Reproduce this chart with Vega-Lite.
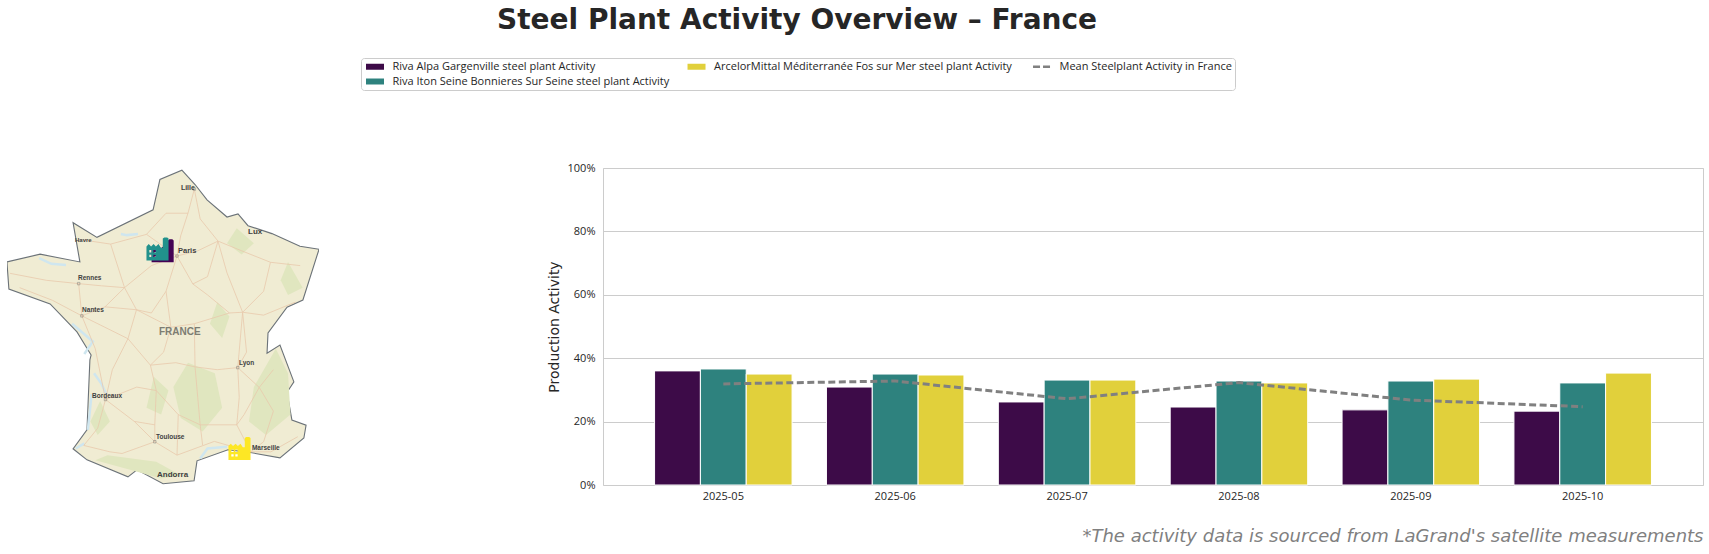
{
"$schema":"https://vega.github.io/schema/vega-lite/v6.json",
"padding":{"left":7,"top":7,"right":6,"bottom":0},
"background":"white",
"title":{"text":"Steel Plant Activity Overview – France","font":"DejaVu Sans","fontSize":28,"fontWeight":"bold","color":"#262626","anchor":"start","dx":490,"offset":22},
"bounds":"flush",
"spacing":284,
"resolve":{"scale":{"color":"independent"},"legend":{"color":"independent"}},
"config":{"view":{"stroke":null},"font":"Open Sans"},
"datasets":{
"plants":[
{"month":"2025-05","series":"Riva Alpa Gargenville steel plant Activity","activity":0.36},
{"month":"2025-05","series":"Riva Iton Seine Bonnieres Sur Seine steel plant Activity","activity":0.366},
{"month":"2025-05","series":"ArcelorMittal Méditerranée Fos sur Mer steel plant Activity","activity":0.35},
{"month":"2025-06","series":"Riva Alpa Gargenville steel plant Activity","activity":0.309},
{"month":"2025-06","series":"Riva Iton Seine Bonnieres Sur Seine steel plant Activity","activity":0.35},
{"month":"2025-06","series":"ArcelorMittal Méditerranée Fos sur Mer steel plant Activity","activity":0.347},
{"month":"2025-07","series":"Riva Alpa Gargenville steel plant Activity","activity":0.262},
{"month":"2025-07","series":"Riva Iton Seine Bonnieres Sur Seine steel plant Activity","activity":0.331},
{"month":"2025-07","series":"ArcelorMittal Méditerranée Fos sur Mer steel plant Activity","activity":0.331},
{"month":"2025-08","series":"Riva Alpa Gargenville steel plant Activity","activity":0.246},
{"month":"2025-08","series":"Riva Iton Seine Bonnieres Sur Seine steel plant Activity","activity":0.328},
{"month":"2025-08","series":"ArcelorMittal Méditerranée Fos sur Mer steel plant Activity","activity":0.322},
{"month":"2025-09","series":"Riva Alpa Gargenville steel plant Activity","activity":0.237},
{"month":"2025-09","series":"Riva Iton Seine Bonnieres Sur Seine steel plant Activity","activity":0.328},
{"month":"2025-09","series":"ArcelorMittal Méditerranée Fos sur Mer steel plant Activity","activity":0.334},
{"month":"2025-10","series":"Riva Alpa Gargenville steel plant Activity","activity":0.233},
{"month":"2025-10","series":"Riva Iton Seine Bonnieres Sur Seine steel plant Activity","activity":0.322},
{"month":"2025-10","series":"ArcelorMittal Méditerranée Fos sur Mer steel plant Activity","activity":0.353}
],
"mean":[
{"month":"2025-05","series":"Mean Steelplant Activity in France","activity":0.319},
{"month":"2025-06","series":"Mean Steelplant Activity in France","activity":0.328},
{"month":"2025-07","series":"Mean Steelplant Activity in France","activity":0.272},
{"month":"2025-08","series":"Mean Steelplant Activity in France","activity":0.323},
{"month":"2025-09","series":"Mean Steelplant Activity in France","activity":0.268},
{"month":"2025-10","series":"Mean Steelplant Activity in France","activity":0.247}
],
"cities":[
{"name":"Lille","lon":2.51,"lat":50.66,"size":7},
{"name":"Lux","lon":5.26,"lat":49.5,"size":8},
{"name":"Havre","lon":-1.83,"lat":49.3,"size":6},
{"name":"Paris","lon":2.39,"lat":48.99,"size":7.5},
{"name":"Rennes","lon":-1.71,"lat":48.27,"size":6.5},
{"name":"Nantes","lon":-1.54,"lat":47.38,"size":6.5},
{"name":"Lyon","lon":4.89,"lat":45.9,"size":6.5},
{"name":"Bordeaux","lon":-1.13,"lat":44.94,"size":6.5},
{"name":"Toulouse","lon":1.49,"lat":43.74,"size":6.5},
{"name":"Marseille","lon":5.42,"lat":43.41,"size":6.5},
{"name":"Andorra","lon":1.53,"lat":42.6,"size":8}
],
"towns":[
{"lon":3.06,"lat":50.63},{"lon":2.35,"lat":48.86},{"lon":-1.68,"lat":48.11},{"lon":-1.55,"lat":47.22},{"lon":4.84,"lat":45.76},{"lon":-0.58,"lat":44.84},{"lon":1.44,"lat":43.6}
],
"icons":[
{"plant":"Riva Alpa Gargenville","lon":1.78,"lat":49.0},
{"plant":"Riva Iton Seine Bonnieres Sur Seine","lon":1.57,"lat":49.05},
{"plant":"ArcelorMittal Méditerranée Fos sur Mer","lon":4.93,"lat":43.4}
]
},
"hconcat":[
{"width":312,"height":317,
"projection":{"type":"mercator","center":[2.35,48.86],"scale":1398,"translate":[170,88]},
"layer":[
{"data":{"values":{"type":"FeatureCollection","features":[{"type":"Feature","properties":{},"geometry":{"type":"Polygon","coordinates":[[[2.55,51.12],[3.09,50.75],[3.58,50.35],[4.40,49.90],[4.85,49.98],[5.26,49.67],[6.24,49.46],[7.39,49.12],[8.17,49.04],[7.51,47.66],[6.86,47.46],[6.08,46.74],[6.04,46.17],[6.57,46.40],[7.14,45.35],[6.86,45.05],[7.06,44.24],[7.64,44.09],[7.55,43.71],[6.57,43.12],[5.42,43.27],[4.44,43.36],[3.17,43.03],[3.05,42.43],[1.78,42.34],[0.71,42.76],[0.34,42.55],[-1.34,43.06],[-1.91,43.39],[-1.34,43.95],[-1.22,45.98],[-1.17,46.12],[-1.75,46.77],[-2.85,47.55],[-4.54,47.96],[-4.62,48.70],[-3.26,48.91],[-1.63,48.70],[-1.91,49.75],[-0.93,49.36],[1.37,50.09],[1.65,50.88],[2.55,51.12]]]}}]},"format":{"type":"json","property":"features"}},
"mark":{"type":"geoshape","fill":"#f0ecd3","stroke":"#6b7278","strokeWidth":1.1}},
{"data":{"values":{"type":"FeatureCollection","features":[
{"type":"Feature","properties":{},"geometry":{"type":"Polygon","coordinates":[[[4.0,47.6],[4.5,47.2],[4.2,46.6],[3.7,47.0],[4.0,47.6]]]}},
{"type":"Feature","properties":{},"geometry":{"type":"Polygon","coordinates":[[[2.8,45.9],[3.9,45.6],[4.2,44.6],[3.4,43.9],[2.5,44.3],[2.2,45.2],[2.8,45.9]]]}},
{"type":"Feature","properties":{},"geometry":{"type":"Polygon","coordinates":[[[6.4,46.3],[6.9,45.6],[7.0,44.4],[6.0,43.8],[5.3,44.2],[5.5,45.2],[6.4,46.3]]]}},
{"type":"Feature","properties":{},"geometry":{"type":"Polygon","coordinates":[[[-0.8,44.8],[-0.4,44.2],[-0.9,43.8],[-1.2,44.2],[-0.8,44.8]]]}},
{"type":"Feature","properties":{},"geometry":{"type":"Polygon","coordinates":[[[-0.5,43.2],[1.5,43.0],[2.5,42.6],[1.7,42.5],[0.5,42.75],[-1.0,43.05],[-0.5,43.2]]]}},
{"type":"Feature","properties":{},"geometry":{"type":"Polygon","coordinates":[[[6.9,48.7],[7.5,48.0],[6.9,47.8],[6.6,48.2],[6.9,48.7]]]}},
{"type":"Feature","properties":{},"geometry":{"type":"Polygon","coordinates":[[[1.4,45.5],[2.0,45.1],[1.7,44.4],[1.1,44.6],[1.4,45.5]]]}},
{"type":"Feature","properties":{},"geometry":{"type":"Polygon","coordinates":[[[4.8,49.6],[5.5,49.2],[5.0,48.9],[4.4,49.2],[4.8,49.6]]]}}
]},"format":{"type":"json","property":"features"}},
"mark":{"type":"geoshape","fill":"#e0e6bf","stroke":null}},
{"data":{"values":{"type":"FeatureCollection","features":[
{"type":"Feature","properties":{},"geometry":{"type":"LineString","coordinates":[[0.05,49.45],[0.3,49.42],[0.75,49.45]]}},
{"type":"Feature","properties":{},"geometry":{"type":"LineString","coordinates":[[-1.05,45.6],[-0.75,45.3],[-0.55,45.0]]}},
{"type":"Feature","properties":{},"geometry":{"type":"LineString","coordinates":[[-1.3,43.95],[-1.15,45.0]]}},
{"type":"Feature","properties":{},"geometry":{"type":"LineString","coordinates":[[3.3,43.1],[3.6,43.4],[4.4,43.45]]}},
{"type":"Feature","properties":{},"geometry":{"type":"LineString","coordinates":[[-1.45,46.15],[-1.1,46.5],[-1.95,47.0]]}},
{"type":"Feature","properties":{},"geometry":{"type":"LineString","coordinates":[[-3.3,48.8],[-2.8,48.65],[-2.2,48.62]]}},
{"type":"Feature","properties":{},"geometry":{"type":"LineString","coordinates":[[-1.8,43.4],[-1.45,43.55]]}}
]},"format":{"type":"json","property":"features"}},
"mark":{"type":"geoshape","filled":false,"stroke":"#cfe6ef","strokeWidth":2.5}},
{"data":{"values":{"type":"FeatureCollection","features":[
{"type":"Feature","properties":{},"geometry":{"type":"LineString","coordinates":[[3.06,50.63],[2.8,50.0],[2.5,49.4],[2.35,48.86],[1.9,47.9],[1.3,47.3],[0.69,47.39],[0.34,46.58],[-0.3,45.7],[-0.58,44.84],[0.6,44.2],[1.44,43.6],[2.35,43.2],[3.88,43.61],[5.37,43.3],[6.2,43.3],[7.3,43.75]]}},
{"type":"Feature","properties":{},"geometry":{"type":"LineString","coordinates":[[2.35,48.86],[3.0,48.1],[3.6,47.8],[4.5,47.3],[5.04,47.32],[4.84,45.76],[4.9,44.9],[4.8,44.1],[5.37,43.3]]}},
{"type":"Feature","properties":{},"geometry":{"type":"LineString","coordinates":[[2.35,48.86],[3.2,49.0],[4.03,49.26],[5.0,49.0],[6.18,48.69],[7.4,48.6]]}},
{"type":"Feature","properties":{},"geometry":{"type":"LineString","coordinates":[[2.35,48.86],[1.3,48.6],[0.2,48.0],[-0.75,48.05],[-1.68,48.11],[-3.0,48.2],[-4.49,48.39]]}},
{"type":"Feature","properties":{},"geometry":{"type":"LineString","coordinates":[[-1.68,48.11],[-1.55,47.22],[-0.6,47.47],[0.2,48.0]]}},
{"type":"Feature","properties":{},"geometry":{"type":"LineString","coordinates":[[-1.55,47.22],[-2.75,47.65],[-4.1,48.0]]}},
{"type":"Feature","properties":{},"geometry":{"type":"LineString","coordinates":[[-1.55,47.22],[-1.0,46.3],[-0.58,44.84],[-0.9,44.0],[-1.47,43.49],[-0.4,43.3],[0.1,43.25],[1.44,43.6]]}},
{"type":"Feature","properties":{},"geometry":{"type":"LineString","coordinates":[[1.9,47.9],[2.1,46.9],[1.8,46.2],[1.26,45.83],[1.5,45.1],[1.44,44.1],[1.44,43.6]]}},
{"type":"Feature","properties":{},"geometry":{"type":"LineString","coordinates":[[1.26,45.83],[2.3,45.9],[3.09,45.78],[4.0,45.7],[4.84,45.76],[5.72,45.19],[6.3,45.7]]}},
{"type":"Feature","properties":{},"geometry":{"type":"LineString","coordinates":[[3.09,45.78],[3.2,44.9],[3.3,44.1],[3.4,43.5]]}},
{"type":"Feature","properties":{},"geometry":{"type":"LineString","coordinates":[[3.06,47.0],[3.09,45.78]]}},
{"type":"Feature","properties":{},"geometry":{"type":"LineString","coordinates":[[5.04,47.32],[5.9,47.24],[7.2,47.6]]}},
{"type":"Feature","properties":{},"geometry":{"type":"LineString","coordinates":[[6.18,48.69],[5.9,47.9],[5.04,47.32]]}},
{"type":"Feature","properties":{},"geometry":{"type":"LineString","coordinates":[[-0.37,49.18],[0.2,48.0]]}},
{"type":"Feature","properties":{},"geometry":{"type":"LineString","coordinates":[[-1.6,49.3],[-0.37,49.18],[1.1,49.44],[2.35,48.86]]}},
{"type":"Feature","properties":{},"geometry":{"type":"LineString","coordinates":[[1.1,49.44],[1.9,50.0],[2.8,50.0]]}},
{"type":"Feature","properties":{},"geometry":{"type":"LineString","coordinates":[[5.72,45.19],[5.1,44.4],[4.8,44.1]]}},
{"type":"Feature","properties":{},"geometry":{"type":"LineString","coordinates":[[4.84,45.76],[5.2,46.2],[5.04,47.32]]}},
{"type":"Feature","properties":{},"geometry":{"type":"LineString","coordinates":[[4.03,49.26],[3.6,48.3],[3.0,48.1]]}},
{"type":"Feature","properties":{},"geometry":{"type":"LineString","coordinates":[[4.03,49.26],[4.4,48.4],[5.04,47.32]]}},
{"type":"Feature","properties":{},"geometry":{"type":"LineString","coordinates":[[4.03,49.26],[3.3,49.85],[3.06,50.63]]}},
{"type":"Feature","properties":{},"geometry":{"type":"LineString","coordinates":[[0.69,47.39],[-0.6,47.47]]}},
{"type":"Feature","properties":{},"geometry":{"type":"LineString","coordinates":[[0.69,47.39],[2.1,46.9],[3.06,47.0],[4.5,47.3]]}},
{"type":"Feature","properties":{},"geometry":{"type":"LineString","coordinates":[[0.34,46.58],[1.26,45.83]]}},
{"type":"Feature","properties":{},"geometry":{"type":"LineString","coordinates":[[-0.58,44.84],[0.7,45.2],[1.5,45.1],[2.4,44.4],[3.3,44.1],[4.8,44.1]]}},
{"type":"Feature","properties":{},"geometry":{"type":"LineString","coordinates":[[2.35,43.2],[2.4,44.4]]}},
{"type":"Feature","properties":{},"geometry":{"type":"LineString","coordinates":[[1.44,44.1],[0.6,44.2]]}},
{"type":"Feature","properties":{},"geometry":{"type":"LineString","coordinates":[[0.2,48.0],[0.69,47.39]]}},
{"type":"Feature","properties":{},"geometry":{"type":"LineString","coordinates":[[5.72,45.19],[6.3,44.5],[5.9,43.6],[5.37,43.3]]}},
{"type":"Feature","properties":{},"geometry":{"type":"LineString","coordinates":[[-1.55,47.22],[-0.6,46.9],[0.34,46.58]]}}
]},"format":{"type":"json","property":"features"}},
"mark":{"type":"geoshape","filled":false,"stroke":"#e8c9ac","strokeWidth":0.8}},
{"data":{"name":"towns"},"mark":{"type":"point","shape":"square","size":6,"filled":false,"stroke":"#6a6a6a","strokeWidth":0.6},"encoding":{"longitude":{"field":"lon","type":"quantitative"},"latitude":{"field":"lat","type":"quantitative"}}},
{"data":{"name":"cities"},"mark":{"type":"text","align":"left","baseline":"middle","font":"Liberation Sans","fontWeight":"bold","color":"#3f3f3f"},"encoding":{"longitude":{"field":"lon","type":"quantitative"},"latitude":{"field":"lat","type":"quantitative"},"text":{"field":"name","type":"nominal"},"size":{"field":"size","type":"quantitative","scale":null}}},
{"data":{"values":[{"name":"FRANCE","lon":1.61,"lat":46.78}]},"mark":{"type":"text","align":"left","baseline":"middle","font":"Liberation Sans","fontWeight":"bold","fontSize":10,"color":"#7d7d72"},"encoding":{"longitude":{"field":"lon","type":"quantitative"},"latitude":{"field":"lat","type":"quantitative"},"text":{"field":"name","type":"nominal"}}},
{"data":{"name":"icons"},"mark":{"type":"point","filled":true,"opacity":1,"size":529,"strokeWidth":0,"shape":"M-1,1V-0.22L-0.8,-0.42L-0.6,-0.22L-0.38,-0.42L-0.18,-0.22L0.05,-0.42L0.25,-0.1L0.42,-0.1V-0.9L0.55,-1H0.8L0.92,-0.9V1ZM-0.75,0.1V0.3H-0.55V0.1ZM-0.4,0.1V0.3H-0.2V0.1ZM-0.75,0.5V0.7H-0.55V0.5ZM-0.4,0.5V0.7H-0.2V0.5Z"},
"encoding":{"longitude":{"field":"lon","type":"quantitative"},"latitude":{"field":"lat","type":"quantitative"},"color":{"field":"plant","type":"nominal","legend":null,"scale":{"domain":["Riva Alpa Gargenville","Riva Iton Seine Bonnieres Sur Seine","ArcelorMittal Méditerranée Fos sur Mer"],"range":["#440154","#21918c","#fde725"]}}}}
]},
{"width":1100,"height":317,
"view":{"stroke":"#cccccc","strokeWidth":1},
"layer":[
{"data":{"name":"plants"},"mark":{"type":"bar","stroke":"white","strokeWidth":1},
"encoding":{
"xOffset":{"field":"series","type":"nominal","scale":{"domain":["Riva Alpa Gargenville steel plant Activity","Riva Iton Seine Bonnieres Sur Seine steel plant Activity","ArcelorMittal Méditerranée Fos sur Mer steel plant Activity"]}}
}},
{"data":{"name":"mean"},"mark":{"type":"line","strokeWidth":3,"strokeDash":[7,3.5]}}
],
"encoding":{
"x":{"field":"month","type":"ordinal","scale":{"paddingInner":0.2,"paddingOuter":0.3},
"axis":{"labelAngle":0,"labelFontSize":11,"labelColor":"#262626","labelFont":"Open Sans","ticks":false,"domain":false,"labelPadding":5,"title":"*The activity data is sourced from LaGrand's satellite measurements","titleFont":"DejaVu Sans","titleFontStyle":"italic","titleFontWeight":"normal","titleFontSize":18,"titleColor":"#808080","titleAnchor":"end","titlePadding":26}},
"y":{"field":"activity","type":"quantitative","scale":{"domain":[0,1],"nice":false},
"axis":{"format":".0%","values":[0,0.2,0.4,0.6,0.8,1],"labelFontSize":11,"labelColor":"#262626","labelFont":"Open Sans","ticks":false,"domain":false,"labelPadding":8,"gridColor":"#cccccc","gridWidth":1,"title":"Production Activity","titleFont":"DejaVu Sans","titleFontWeight":"normal","titleFontSize":14,"titleColor":"#262626","titlePadding":6}},
"color":{"field":"series","type":"nominal",
"scale":{"domain":["Riva Alpa Gargenville steel plant Activity","Mean Steelplant Activity in France","ArcelorMittal Méditerranée Fos sur Mer steel plant Activity","Riva Iton Seine Bonnieres Sur Seine steel plant Activity"],"range":["#3d0b48","#808080","#e1d03b","#2e827e"]},
"legend":{"orient":"none","legendX":-242,"legendY":-110,"columns":3,"title":null,"labelFontSize":11,"labelFont":"Open Sans","labelLimit":0,"labelColor":"#262626","columnPadding":15.5,"rowPadding":3,"padding":3,"fillColor":"white","strokeColor":"#cccccc","cornerRadius":3,"symbolSize":144,"labelOffset":17.5,
"encode":{"symbols":{"update":{
"shape":{"signal":"datum.value=='Mean Steelplant Activity in France'?'M-0.58,0H2.42':'M-0.58,-0.5H2.42V0.5H-0.58Z'"},
"fill":{"signal":"datum.value=='Mean Steelplant Activity in France'?'transparent':datum.value=='Riva Alpa Gargenville steel plant Activity'?'#3d0b48':datum.value=='Riva Iton Seine Bonnieres Sur Seine steel plant Activity'?'#2e827e':'#e1d03b'"},
"stroke":{"signal":"datum.value=='Mean Steelplant Activity in France'?'#808080':'transparent'"},
"strokeWidth":{"signal":"datum.value=='Mean Steelplant Activity in France'?2.5:0"},
"strokeDash":{"signal":"datum.value=='Mean Steelplant Activity in France'?[7,3]:[1,0]"},
"opacity":{"value":1}
}}}}
}
}
}
]
}
